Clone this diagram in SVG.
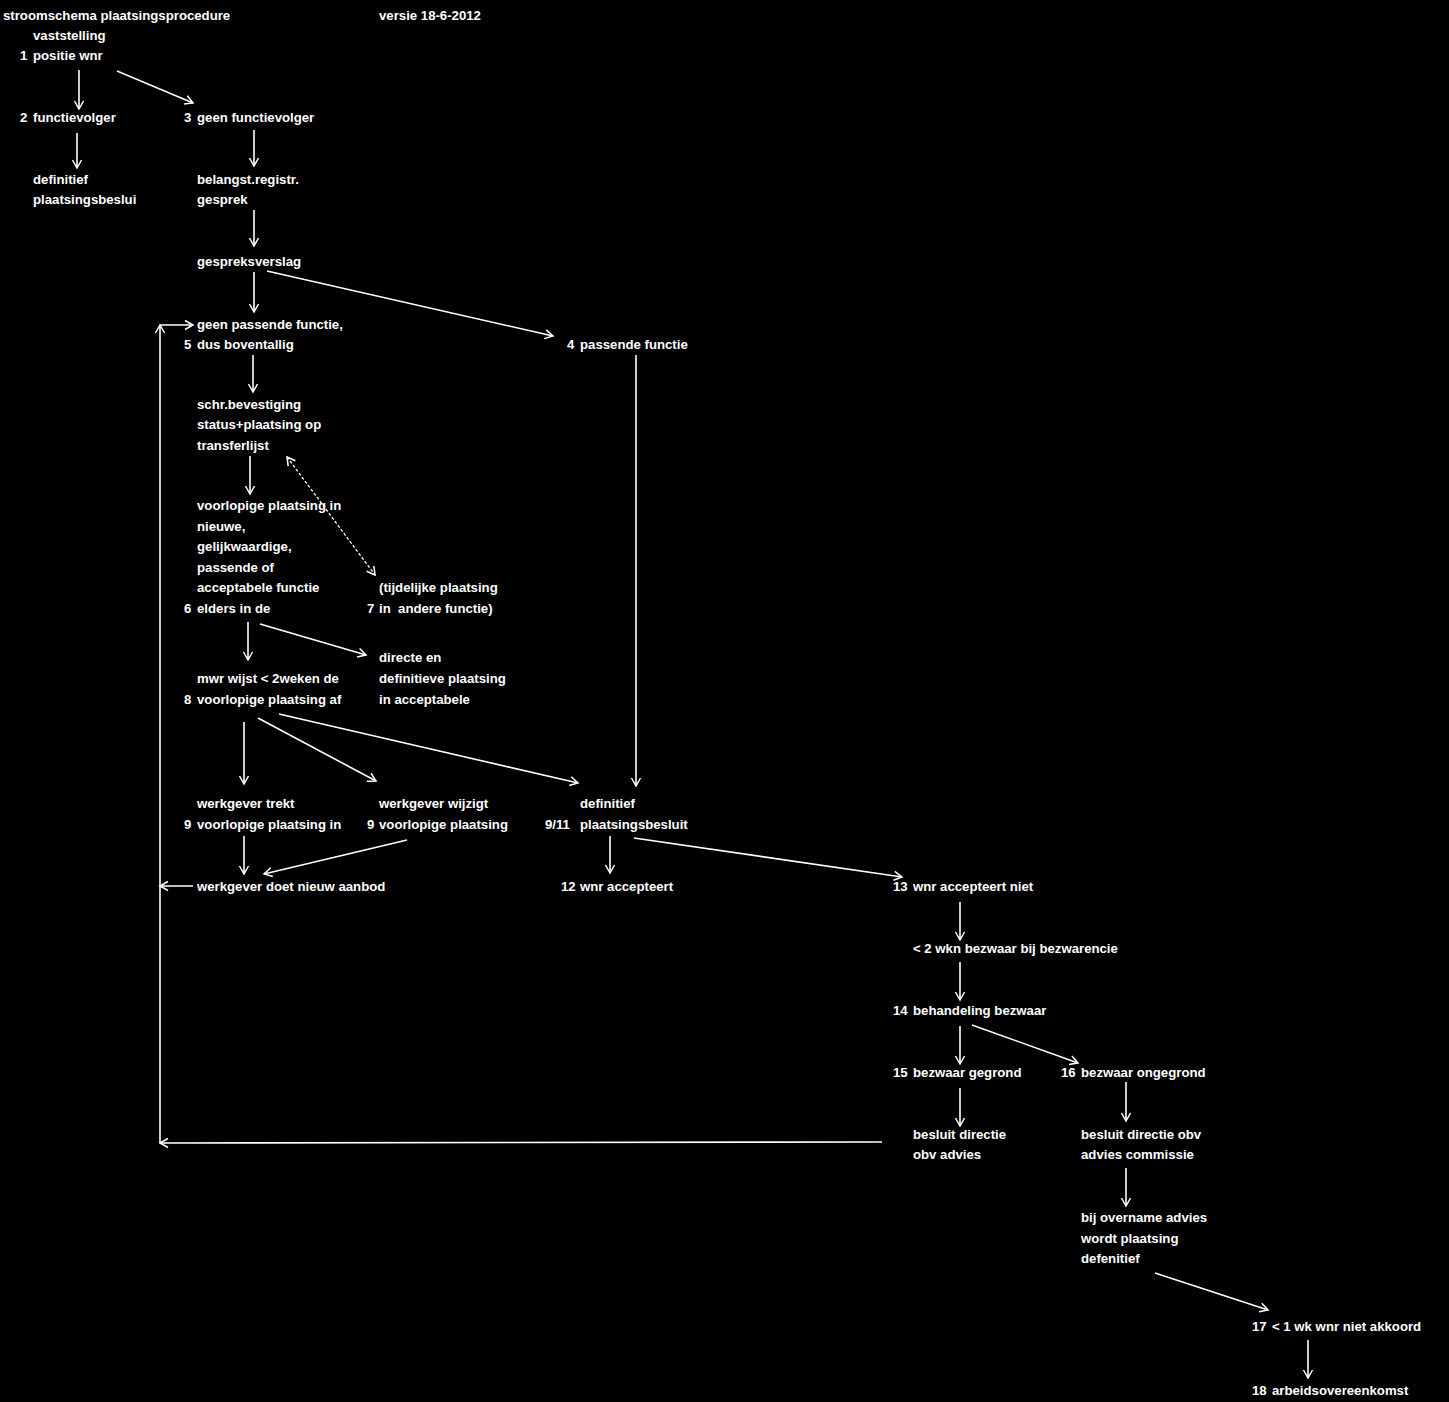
<svg xmlns="http://www.w3.org/2000/svg" width="1449" height="1402" viewBox="0 0 1449 1402">
<style>
text{font-family:"Liberation Sans",Arial,sans-serif;font-weight:bold;font-size:13.2px;fill:#fff}
.c{stroke:#fff;stroke-width:1.6;fill:none}
.d{stroke:#fff;stroke-width:1.3;fill:none;stroke-dasharray:3 2}
</style>
<defs>
<marker id="a" markerUnits="userSpaceOnUse" markerWidth="12" markerHeight="12" refX="9" refY="5" orient="auto-start-reverse" viewBox="0 0 12 10">
<path d="M1,0.5 L9,5 L1,9.5" stroke="#fff" stroke-width="1.5" fill="none"/>
</marker>
</defs>
<rect width="1449" height="1402" fill="#000"/>
<g id="header">
<text x="3" y="20">stroomschema plaatsingsprocedure</text>
<text x="379" y="20">versie 18-6-2012</text>
</g>
<g id="n1"><text x="33" y="40">vaststelling</text><text x="20" y="60">1</text><text x="33" y="60">positie wnr</text></g>
<g id="n2"><text x="20" y="122">2</text><text x="33" y="122">functievolger</text></g>
<g id="n3"><text x="184" y="122">3</text><text x="197" y="122">geen functievolger</text></g>
<g id="n2b"><text x="33" y="184">definitief</text><text x="33" y="204">plaatsingsbeslui</text></g>
<g id="n3b"><text x="197" y="184">belangst.registr.</text><text x="197" y="204">gesprek</text></g>
<g id="n3c"><text x="197" y="266">gespreksverslag</text></g>
<g id="n5"><text x="197" y="329">geen passende functie,</text><text x="184" y="349">5</text><text x="197" y="349">dus boventallig</text></g>
<g id="n4"><text x="567" y="349">4</text><text x="580" y="349">passende functie</text></g>
<g id="n5b"><text x="197" y="409">schr.bevestiging</text><text x="197" y="429">status+plaatsing op</text><text x="197" y="450">transferlijst</text></g>
<g id="n6"><text x="197" y="510">voorlopige plaatsing in</text><text x="197" y="531">nieuwe,</text><text x="197" y="551">gelijkwaardige,</text><text x="197" y="572">passende of</text><text x="197" y="592">acceptabele functie</text><text x="184" y="613">6</text><text x="197" y="613">elders in de</text></g>
<g id="n7"><text x="379" y="592">(tijdelijke plaatsing</text><text x="367" y="613">7</text><text x="379" y="613" xml:space="preserve">in  andere functie)</text></g>
<g id="n6b"><text x="379" y="662">directe en</text><text x="379" y="683">definitieve plaatsing</text><text x="379" y="704">in acceptabele</text></g>
<g id="n8"><text x="197" y="683">mwr wijst &lt; 2weken de</text><text x="184" y="704">8</text><text x="197" y="704">voorlopige plaatsing af</text></g>
<g id="n9a"><text x="197" y="808">werkgever trekt</text><text x="184" y="829">9</text><text x="197" y="829">voorlopige plaatsing in</text></g>
<g id="n9b"><text x="379" y="808">werkgever wijzigt</text><text x="367" y="829">9</text><text x="379" y="829">voorlopige plaatsing</text></g>
<g id="n911"><text x="580" y="808">definitief</text><text x="545" y="829">9/11</text><text x="580" y="829">plaatsingsbesluit</text></g>
<g id="n10"><text x="197" y="891">werkgever doet nieuw aanbod</text></g>
<g id="n12"><text x="561" y="891">12</text><text x="580" y="891">wnr accepteert</text></g>
<g id="n13"><text x="893" y="891">13</text><text x="913" y="891">wnr accepteert niet</text></g>
<g id="n13b"><text x="913" y="953">&lt; 2 wkn bezwaar bij bezwarencie</text></g>
<g id="n14"><text x="893" y="1015">14</text><text x="913" y="1015">behandeling bezwaar</text></g>
<g id="n15"><text x="893" y="1077">15</text><text x="913" y="1077">bezwaar gegrond</text></g>
<g id="n16"><text x="1061" y="1077">16</text><text x="1081" y="1077">bezwaar ongegrond</text></g>
<g id="n15b"><text x="913" y="1139">besluit directie</text><text x="913" y="1159">obv advies</text></g>
<g id="n16b"><text x="1081" y="1139">besluit directie obv</text><text x="1081" y="1159">advies commissie</text></g>
<g id="n16c"><text x="1081" y="1222">bij overname advies</text><text x="1081" y="1243">wordt plaatsing</text><text x="1081" y="1263">defenitief</text></g>
<g id="n17"><text x="1252" y="1331">17</text><text x="1272" y="1331">&lt; 1 wk wnr niet akkoord</text></g>
<g id="n18"><text x="1252" y="1395">18</text><text x="1272" y="1395">arbeidsovereenkomst</text></g>
<g id="connectors" marker-end="url(#a)">
<line class="c" x1="79" y1="70" x2="79" y2="109"/>
<line class="c" x1="117" y1="71" x2="193" y2="103"/>
<line class="c" x1="77" y1="133" x2="77" y2="168"/>
<line class="c" x1="254" y1="130" x2="254" y2="166"/>
<line class="c" x1="254" y1="210" x2="254" y2="246"/>
<line class="c" x1="254" y1="272" x2="254" y2="312"/>
<line class="c" x1="267" y1="271" x2="553" y2="336"/>
<line class="c" x1="253" y1="355" x2="253" y2="392"/>
<line class="c" x1="250" y1="456" x2="250" y2="494"/>
<line class="d" x1="287" y1="457" x2="375" y2="575" marker-start="url(#a)"/>
<line class="c" x1="248" y1="622" x2="248" y2="660"/>
<line class="c" x1="260" y1="624" x2="366" y2="655"/>
<line class="c" x1="244" y1="722" x2="244" y2="784"/>
<line class="c" x1="258" y1="718" x2="376" y2="781"/>
<line class="c" x1="279" y1="714" x2="578" y2="783"/>
<line class="c" x1="636" y1="355" x2="636" y2="786"/>
<line class="c" x1="244" y1="836" x2="244" y2="874"/>
<line class="c" x1="407" y1="840" x2="264" y2="874"/>
<line class="c" x1="610" y1="836" x2="610" y2="873"/>
<line class="c" x1="634" y1="838" x2="902" y2="877"/>
<line class="c" x1="960" y1="902" x2="960" y2="940"/>
<line class="c" x1="960" y1="962" x2="960" y2="1000"/>
<line class="c" x1="960" y1="1026" x2="960" y2="1064"/>
<line class="c" x1="972" y1="1025" x2="1078" y2="1063"/>
<line class="c" x1="960" y1="1088" x2="960" y2="1126"/>
<line class="c" x1="1126" y1="1082" x2="1126" y2="1121"/>
<line class="c" x1="1126" y1="1168" x2="1126" y2="1206"/>
<line class="c" x1="1155" y1="1273" x2="1268" y2="1310"/>
<line class="c" x1="1308" y1="1340" x2="1308" y2="1378"/>
<line class="c" x1="882" y1="1142" x2="160" y2="1143"/>
<line class="c" x1="160" y1="1143" x2="160" y2="325"/>
<line class="c" x1="160" y1="325" x2="193" y2="325"/>
<line class="c" x1="193" y1="886" x2="160" y2="886"/>
</g>
</svg>
